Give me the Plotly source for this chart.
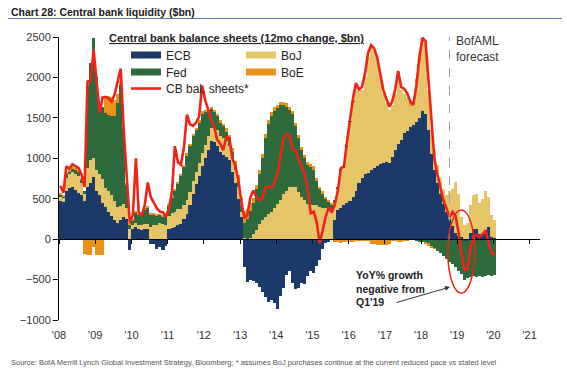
import plotly.graph_objects as go

# ---------------- data (monthly, Jan-2008 .. Jan-2020), $bn 12mo change ----------------
months = [f"{2008 + i // 12}-{i % 12 + 1:02d}-15" for i in range(145)]

ecb = [470, 460, 600, 630, 640, 610, 570, 540, 470, 650, 700, 770,
       600, 540, 450, 400, 340, 290, 240, 200, 240, 280, 250, -130,
       120, 150, 120, 110, 130, 120, -60, -60, -120, -100, -130, -90,
       120, 140, 150, 170, 190, 250, 310, 420, 560, 680, 780, 900,
       1000, 1100, 1220, 1200, 1150, 1080, 1040, 1020, 980, 830, 700, 500,
       280, -350, -530, -510, -520, -540, -590, -650, -720, -780, -750, -790,
       -870, -700, -600, -440, -400, -540, -620, -610, -540, -550, -460, -400,
       -420, -330, -260, -120, -50, -30, -10, 240, 360, 380, 420, 450,
       470, 520, 600, 700, 760, 800, 820, 860, 880, 900, 930, 945,
       950, 940, 1020, 1100, 1180, 1230, 1310, 1340, 1390, 1410, 1450, 1500,
       1580, 1550, 1350, 1050, 850, 700, 560, 440, 340, 250, 160, 80,
       35, 30, -20, -20, 80, 120, 120, 60, 50, 60, 150, 30, 20]

boj = [60, 50, 160, 170, 190, 200, 210, 150, 90, 230, 280, 230,
       250, 270, 290, 230, 250, 250, 230, 200, 170, 150, 140, 120,
       60, 50, 60, 70, 60, 70, 150, 170, 180, 200, 190, 180,
       170, 180, 190, 200, 180, 170, 170, 160, 160, 150, 160, 170,
       170, 170, 160, 180, 200, 200, 210, 200, 170, 160, 150, 150,
       60, 10, 0, 10, 60, 110, 190, 240, 280, 310, 340, 390,
       430, 480, 560, 600, 640, 650, 640, 580, 520, 480, 430, 420,
       420, 420, 400, 390, 380, 370, 360, 210, 260, 470, 460, 700,
       980, 1180, 1300, 1130, 1090, 1200, 1430, 1500, 1450, 1300, 1070, 855,
       730, 660, 640, 700, 850, 620, 490, 400, 260, 250, 500, 700,
       870, 870, 500, 300, 250, 220, 200, 180, 200, 350, 460, 630,
       520, 250, 180, 200, 340, 420, 440, 390, 450, 540, 370, 270, 220]

fed = [20, 20, 50, 40, 40, 50, 60, 50, 40, 1020, 1200, 1490,
       1150, 840, 900, 930, 950, 980, 1050, 1280, 1500, 950, 280, 60,
       50, 120, 120, 130, 180, 200, 160, 140, 110, 100, 90, 110,
       130, 200, 260, 320, 420, 480, 560, 580, 560, 520, 500, 480,
       400, 300, 230, 200, 180, 160, 150, 110, 100, 90, 60, 60,
       80, 190, 250, 340, 390, 510, 610, 760, 970, 1110, 1180, 1190,
       1190, 1180, 1100, 1040, 960, 900, 760, 670, 580, 520, 490, 470,
       440, 300, 220, 170, 120, 100, 70, 40, 30, 20, 10, 10,
       5, 5, 0, 0, -5, -5, 0, 0, -5, -5, -10, -10,
       -10, -10, -5, -5, -10, -10, -10, -10, -10, -10, -20, -30,
       -30, -40, -60, -90, -110, -150, -170, -210, -250, -280, -310, -350,
       -400, -430, -490, -460, -470, -450, -470, -460, -470, -450, -440, -450, -440]

boe = [10, 10, 20, 20, 10, 10, 20, 10, -180, -200, -200, -100,
       -200, -200, -190, 200, 230, 240, 200, 120, 50, 30, 20, 20,
       20, 30, 20, 20, 20, 20, 10, 10, 10, 10, 10, 10,
       10, 10, 10, 20, 20, 20, 20, 20, 20, 20, 30, 30,
       30, 30, 20, 20, 20, 30, 30, 40, 40, 50, 60, 80,
       100, 150, 120, 100, 60, 50, 50, 50, 50, 50, 50, 50,
       40, 40, 40, 40, 40, 40, 40, 40, 40, 40, 40, 40,
       40, 40, 30, 30, 20, 10, 10, -40, -40, -50, -40, -40,
       -40, -30, -20, -20, -20, -20, -20, -60, -60, -70, -60, -60,
       -60, -50, -20, -20, -20, -20, -10, -10, 40, 40, 30, 50,
       20, -20, -20, -10, -10, 0, 0, 0, 0, 0, 0, 0,
       0, 0, 0, 0, 0, 0, 0, 0, 0, 0, 0, 0, 0]

cb_total = [660, 575, 900, 870, 925, 905, 880, 800, 645, 1950, 1960, 2340,
            1980, 1560, 1750, 1760, 1740, 1700, 1790, 1960, 2110, 1350, 700, 200,
            300, 1000, 330, 290, 420, 700, 520, 440, 380, 340, 330, 280,
            380, 600, 1150, 950, 920, 1140, 1540, 1420, 1400, 1440, 1520, 1900,
            1720, 1600, 1480, 1390, 1230, 1180, 1100, 1270, 1250, 1000, 900, 730,
            450, 260, 300, 520, 600, 520, 480, 500, 640, 650, 640, 700,
            820, 1050, 1250, 1300, 1280, 1100, 1100, 980, 900, 800, 600, 320,
            340, 200, -50, 110, 280, 390, 330, 430, 600, 880, 900, 1200,
            1500, 1750, 1930, 1850, 1880, 2050, 2300, 2400, 2360, 2250, 2050, 1850,
            1740, 1640, 1700, 1850, 2080, 1880, 1860, 1800, 1700, 1660, 1900, 2250,
            2490, 2450, 2000, 1500, 1000, 800, 620, 480, 380, 270, 340, 290,
            80, -200, -380, -370, -100, 40, 50, 30, 60, 110, -60, -170, -190]

year_ticks = [f"{y}-01-01" for y in range(2008, 2022)]
year_labels = ["'08", "'09", "'10", "'11", "'12", "'13", "'14",
               "'15", "'16", "'17", "'18", "'19", "'20", "'21"]
y_ticks = [-1000, -500, 0, 500, 1000, 1500, 2000, 2500]

# ---------------- styling ----------------
C_ECB = "#1b3a6a"
C_BOJ = "#e6c468"
C_FED = "#2d6a3c"
C_BOE = "#e8921a"
C_LINE = "#f0231a"
FONT = "Arial, Liberation Sans, sans-serif"
NARROW = "Liberation Sans Narrow, Arial Narrow, Arial, sans-serif"

W, H = 567, 375
L, R, T, B = 59, 27, 37, 55
PW, PH = W - L - R, H - T - B


def px(xp):
    return (xp - L) / PW


def py(yp):
    return 1 - (yp - T) / PH


bar_w = 31 * 24 * 3600 * 1000

fig = go.Figure()
for name, vals, col in [("ECB", ecb, C_ECB), ("BoJ", boj, C_BOJ),
                        ("Fed", fed, C_FED), ("BoE", boe, C_BOE)]:
    fig.add_trace(go.Bar(x=months, y=vals, name=name, marker=dict(color=col, line=dict(width=0)),
                         width=bar_w, showlegend=False))

fig.add_trace(go.Scatter(x=months, y=cb_total, mode="lines", name="CB bal. sheets*",
                         line=dict(color=C_LINE, width=2.6), legend="legend5"))

# legend swatches (wide bars as in the original), one legend per slot
for name, col, lg in [("ECB", C_ECB, "legend"), ("BoJ", C_BOJ, "legend2"),
                      ("Fed", C_FED, "legend3"), ("BoE", C_BOE, "legend4")]:
    fig.add_trace(go.Scatter(x=[None], y=[None], mode="lines", name=name,
                             line=dict(color=col, width=7), legend=lg))

# helper trace for the zero-line axis with year ticks
fig.add_trace(go.Scatter(x=[months[0]], y=[None], xaxis="x2", yaxis="y", mode="lines",
                         showlegend=False, hoverinfo="skip"))


def leg(xl, yc):
    return dict(x=px(xl), y=py(yc - 14.5), xanchor="left", yanchor="top",
                bgcolor="rgba(0,0,0,0)", borderwidth=0, tracegroupgap=0,
                font=dict(family=FONT, size=12, color="#222"), itemclick=False)


xr = ["2008-01-01", "2021-04-15"]
fig.update_layout(
    width=W, height=H,
    margin=dict(l=L, r=R, t=T, b=B),
    paper_bgcolor="white", plot_bgcolor="white",
    barmode="relative", bargap=0,
    hovermode=False,
    font=dict(family=FONT, size=11, color="#333"),
    xaxis=dict(type="date", range=xr, tickvals=year_ticks, ticktext=year_labels,
               showgrid=False, showline=False, zeroline=False,
               ticks="outside", ticklen=5, tickcolor="rgba(0,0,0,0)",
               tickfont=dict(size=11, color="#333")),
    xaxis2=dict(type="date", range=xr, overlaying="x", anchor="free", position=1000 / 3500,
                tickvals=year_ticks, showticklabels=False, showgrid=False, zeroline=False,
                showline=True, linecolor="black", linewidth=1,
                ticks="outside", ticklen=4, tickcolor="black"),
    yaxis=dict(range=[-1000, 2500], tickvals=y_ticks, showgrid=False, zeroline=False,
               showline=True, linecolor="black", linewidth=1,
               ticks="outside", ticklen=5, tickcolor="black",
               tickfont=dict(size=11, color="#333")),
    legend=leg(126, 55),
    legend2=leg(241, 55),
    legend3=leg(126, 72),
    legend4=leg(241, 72),
    legend5=leg(126, 88.5),
)

fig.add_annotation(text="<b>Chart 28: Central bank liquidity ($bn)</b>",
                   xref="paper", yref="paper", x=px(9), y=py(12), xanchor="left", yanchor="middle",
                   showarrow=False, font=dict(family=NARROW, size=10.5, color="#1a1a1a"))
fig.add_shape(type="line", xref="paper", yref="paper", x0=px(8), x1=px(562), y0=py(18.5), y1=py(18.5),
              line=dict(color="#5a78a8", width=1.2))

fig.add_annotation(text="<b><u>Central bank balance sheets (12mo change, $bn)</u></b>",
                   xref="paper", yref="paper", x=px(107), y=py(38), xanchor="left", yanchor="middle",
                   showarrow=False, font=dict(family=FONT, size=11, color="#222"))

fig.add_annotation(text="BofAML<br>forecast", xref="paper", yref="paper",
                   x=px(454), y=py(49.5), xanchor="left", yanchor="middle", align="left",
                   showarrow=False, font=dict(family=FONT, size=12, color="#333"))

fig.add_annotation(text="<b>YoY% growth<br>negative from<br>Q1'19</b>", xref="paper", yref="paper",
                   x=px(354), y=py(288.5), xanchor="left", yanchor="middle", align="left",
                   showarrow=False, font=dict(family=FONT, size=10.5, color="#222"))
fig.add_annotation(text="", xref="paper", yref="paper", x=px(450), y=py(287),
                   ax=-55, ay=16, showarrow=True, arrowhead=2, arrowsize=1,
                   arrowwidth=1, arrowcolor="#333")

fig.add_shape(type="line", xref="x", yref="y", x0="2018-10-15", x1="2018-10-15", y0=0, y1=2520,
              line=dict(color="#9a9a9a", width=1, dash="dash"))
fig.add_shape(type="circle", xref="x", yref="y", x0="2018-09-28", x1="2019-06-27",
              y0=-668, y1=359, line=dict(color="#f0231a", width=1.5))

fig.add_annotation(text="Source: BofA Merrill Lynch Global Investment Strategy, Bloomberg; * assumes BoJ purchases "
                        "continue at the current reduced pace vs stated level",
                   xref="paper", yref="paper", x=px(9), y=py(362), xanchor="left", yanchor="middle",
                   showarrow=False, font=dict(family=NARROW, size=7.5, color="#555"))

fig.write_html("out.html", config={"displayModeBar": False})

# remove the default page margin so the figure sits at the window origin
with open("out.html", "r", encoding="utf-8") as f:
    html = f.read()
html = html.replace("<body>", '<body style="margin:0;padding:0;overflow:hidden">', 1)
with open("out.html", "w", encoding="utf-8") as f:
    f.write(html)
